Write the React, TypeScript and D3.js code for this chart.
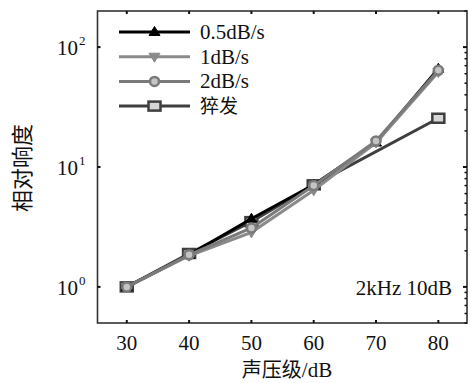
import React from "react";
import * as d3 from "d3";

const xValues = [30, 40, 50, 60, 70, 80];
const seriesNames = ["0.5dB/s", "1dB/s", "2dB/s", "猝发"];
const s05 = [1, 1.85, 3.7, 7.1, 16, 66];
const s1 = [1, 1.82, 2.85, 6.4, 16, 62];
const s2 = [1, 1.85, 3.1, 7.0, 16.5, 64];
const sBurst = [1, 1.9, 3.5, 7.1, NaN, 25.5];
const xTicks = [30, 40, 50, 60, 70, 80];
const yTicks = [1, 10, 100];
const yTickExp = ["0", "1", "2"];

const W = 470, H = 383;
const L = 97.5, R = 467, T = 11, B = 323;

export default function App() {
  const x = d3.scaleLinear().domain([25.3, 84.6]).range([L, R]);
  const y = d3.scaleLog().domain([0.5, 200]).range([B, T]);
  const line = d3.line<[number, number]>().x((d) => x(d[0])).y((d) => y(d[1]));

  const series = [
    { name: seriesNames[0], data: s05, color: "#000000", marker: "up" },
    { name: seriesNames[1], data: s1, color: "#8a8a8a", marker: "down" },
    { name: seriesNames[2], data: s2, color: "#7a7a7a", marker: "circle" },
    { name: seriesNames[3], data: sBurst, color: "#3f3f3f", marker: "square" },
  ];
  const drawOrder = [3, 0, 1, 2];

  const marker = (type: string, cx: number, cy: number, color: string, key: string) => {
    if (type === "up")
      return <path key={key} d={`M${cx},${cy - 5.5} L${cx + 5.5},${cy + 3.5} L${cx - 5.5},${cy + 3.5} Z`} fill={color} stroke={color} strokeWidth={1} />;
    if (type === "down")
      return <path key={key} d={`M${cx},${cy + 5.5} L${cx + 5.5},${cy - 3.5} L${cx - 5.5},${cy - 3.5} Z`} fill={color} stroke={color} strokeWidth={1} />;
    if (type === "circle")
      return <circle key={key} cx={cx} cy={cy} r={4.5} fill="#c4c4c4" stroke={color} strokeWidth={2.5} />;
    return <rect key={key} x={cx - 6} y={cy - 4.5} width={12} height={9} fill="#d6d6d6" stroke={color} strokeWidth={2.5} />;
  };

  const minor: number[] = [];
  for (const dec of [0.1, 1, 10, 100]) for (let k = 2; k <= 9; k++) {
    const v = dec * k;
    if (v >= 0.5 && v <= 200) minor.push(v);
  }

  const serif = "'Liberation Serif', 'DejaVu Serif', serif";
  const cjk = "'Noto Sans CJK SC', sans-serif";

  return (
    <svg width={W} height={H} style={{ position: "absolute", left: 0, top: 0, background: "#fff" }}>
      <rect x={0} y={0} width={W} height={H} fill="#fff" />
      {drawOrder.map((si) => {
        const s = series[si];
        const pts: [number, number][] = s.data
          .map((v, i) => [xValues[i], v] as [number, number])
          .filter((d) => !isNaN(d[1]));
        return (
          <g key={s.name}>
            <path d={line(pts) || ""} fill="none" stroke={s.color} strokeWidth={3} />
            {pts.map((d, i) => marker(s.marker, x(d[0]), y(d[1]), s.color, `${s.name}-${i}`))}
          </g>
        );
      })}
      <rect x={L} y={T} width={R - L} height={B - T} fill="none" stroke="#333" strokeWidth={1.6} />
      {xTicks.map((t) => (
        <g key={`xt${t}`}>
          <line x1={x(t)} x2={x(t)} y1={B} y2={B - 3} stroke="#111" strokeWidth={2} />
          <line x1={x(t)} x2={x(t)} y1={T} y2={T + 3} stroke="#111" strokeWidth={2} />
          <text x={x(t)} y={350} textAnchor="middle" fontFamily={serif} fontSize={21} fill="#111">{t}</text>
        </g>
      ))}
      {yTicks.map((t, i) => (
        <g key={`yt${t}`}>
          <line x1={L} x2={L + 3} y1={y(t)} y2={y(t)} stroke="#111" strokeWidth={2} />
          <line x1={R} x2={R - 4} y1={y(t)} y2={y(t)} stroke="#111" strokeWidth={2} />
          <text x={78} y={y(t) + 8} textAnchor="end" fontFamily={serif} fontSize={21} fill="#111">10</text>
          <text x={79} y={y(t) - 2} textAnchor="start" fontFamily={serif} fontSize={13} fill="#111">{yTickExp[i]}</text>
        </g>
      ))}
      {minor.map((v) => (
        <line key={`mn${v}`} x1={R} x2={R - 2.5} y1={y(v)} y2={y(v)} stroke="#111" strokeWidth={1.5} />
      ))}
      <text x={452} y={295} textAnchor="end" fontFamily={serif} fontSize={21} fill="#111">2kHz 10dB</text>
      {series.map((s, i) => {
        const ly = 32 + i * 24.7;
        return (
          <g key={`lg${i}`}>
            <line x1={119} x2={190} y1={ly} y2={ly} stroke={s.color} strokeWidth={3} />
            {marker(s.marker, 154.5, ly, s.color, `lm${i}`)}
            <text x={200} y={ly + 7} fontFamily={i === 3 ? cjk : serif} fontSize={i === 3 ? 19 : 21} fill="#111">{s.name}</text>
          </g>
        );
      })}
      <text x={287} y={377} textAnchor="middle" fontFamily={cjk} fontSize={20} fill="#111">
        <tspan fontFamily={cjk}>声压级</tspan><tspan fontFamily={serif} fontSize={21}>/dB</tspan>
      </text>
      <text transform="translate(30,168) rotate(-90)" textAnchor="middle" fontFamily={cjk} fontSize={22} fill="#111">相对响度</text>
    </svg>
  );
}
